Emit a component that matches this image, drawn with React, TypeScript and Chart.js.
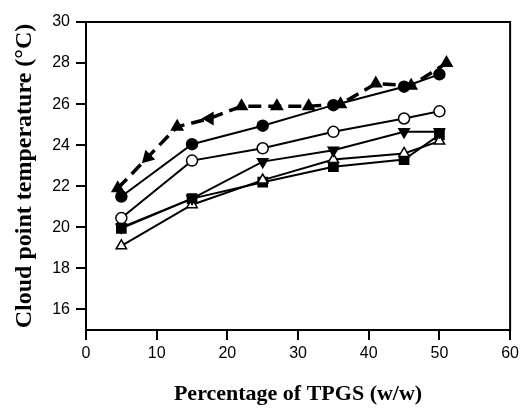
import React, { useEffect, useRef } from "react";
import { Chart, registerables } from "chart.js";

Chart.register(...registerables);

const xTicks = [0, 10, 20, 30, 40, 50, 60];
const yTicks = [16, 18, 20, 22, 24, 26, 28, 30];

const conc = [5, 15, 25, 35, 45, 50];
const filledCircle = [21.5, 24.05, 24.95, 25.95, 26.85, 27.45];
const openCircle = [20.45, 23.25, 23.85, 24.65, 25.3, 25.65];
const invTriangle = [20.0, 21.4, 23.2, 23.75, 24.65, 24.65];
const filledSquare = [19.95, 21.4, 22.2, 22.95, 23.3, 24.5];
const openTriangle = [19.1, 21.1, 22.3, 23.3, 23.6, 24.2];

const dashedX = [4.5, 8.7, 12.9, 17.5, 22, 27, 31.5, 36, 41, 46, 51];
const dashedY = [21.9, 23.4, 24.9, 25.3, 25.9, 25.9, 25.9, 26, 27, 26.9, 28];
const dashedRot = [0, -135, -120, -90, 0, 0, 0, 0, 0, 0, 0];

const pts = (xs: number[], ys: number[]) => xs.map((x, i) => ({ x, y: ys[i] }));

const framePlugin = {
  id: "frame",
  afterDraw(chart: any) {
    const { ctx, chartArea } = chart;
    ctx.save();
    ctx.strokeStyle = "#000";
    ctx.lineWidth = 2;
    ctx.strokeRect(chartArea.left, chartArea.top, chartArea.right - chartArea.left, chartArea.bottom - chartArea.top);
    ctx.restore();
  },
};

export default function App() {
  const ref = useRef<HTMLCanvasElement | null>(null);
  useEffect(() => {
    if (!ref.current) return;
    const base = {
      borderColor: "#000",
      borderWidth: 2,
      pointBorderColor: "#000",
      pointBorderWidth: 1.5,
      pointRadius: 5.5,
      showLine: true,
      tension: 0,
    };
    const chart = new Chart(ref.current, {
      type: "scatter",
      data: {
        datasets: [
          {
            ...base,
            label: "filled circle",
            data: pts(conc, filledCircle),
            pointStyle: "circle",
            pointBackgroundColor: "#000",
          },
          {
            ...base,
            label: "open circle",
            data: pts(conc, openCircle),
            pointStyle: "circle",
            pointBackgroundColor: "#fff",
          },
          {
            ...base,
            label: "inverted triangle",
            data: pts(conc, invTriangle),
            pointStyle: "triangle",
            rotation: 180,
            pointRadius: 6,
            pointBackgroundColor: "#000",
          },
          {
            ...base,
            label: "open triangle",
            data: pts(conc, openTriangle),
            pointStyle: "triangle",
            pointRadius: 6,
            pointBackgroundColor: "#fff",
          },
          {
            ...base,
            label: "filled square",
            data: pts(conc, filledSquare),
            pointStyle: "rect",
            pointRadius: 6.5,
            pointBackgroundColor: "#000",
          },
          {
            ...base,
            label: "dashed",
            data: pts(dashedX, dashedY),
            borderWidth: 3.5,
            borderDash: [13, 7],
            pointStyle: "triangle",
            rotation: dashedRot,
            pointRadius: 6.5,
            pointBackgroundColor: "#000",
          },
        ] as any,
      },
      plugins: [framePlugin],
      options: {
        animation: false,
        responsive: false,
        layout: { padding: { top: 22, right: 8, left: 0, bottom: 0 } },
        plugins: { legend: { display: false }, tooltip: { enabled: false } },
        scales: {
          x: {
            type: "linear",
            min: 0,
            max: 60,
            afterBuildTicks: (s: any) => {
              s.ticks = xTicks.map((v) => ({ value: v }));
            },
            afterFit: (s: any) => {
              s.height = 79;
            },
            grid: { drawOnChartArea: false, drawTicks: true, tickLength: 10, color: "#000", lineWidth: 2 },
            border: { display: true, color: "#000", width: 2 },
            ticks: {
              color: "#000",
              padding: 4,
              maxRotation: 0,
              font: { family: "Liberation Sans", size: 16 },
            },
            title: {
              display: true,
              text: "Percentage of TPGS (w/w)",
              color: "#000",
              padding: { top: 0, bottom: 1 },
              font: { family: "Liberation Serif", size: 22, weight: "bold" },
            },
          },
          y: {
            type: "linear",
            min: 15,
            max: 30,
            afterBuildTicks: (s: any) => {
              s.ticks = yTicks.map((v) => ({ value: v }));
            },
            afterFit: (s: any) => {
              s.width = 86;
            },
            grid: { drawOnChartArea: false, drawTicks: true, tickLength: 10, color: "#000", lineWidth: 2 },
            border: { display: true, color: "#000", width: 2 },
            ticks: {
              color: "#000",
              padding: 6,
              font: { family: "Liberation Sans", size: 16 },
            },
            title: {
              display: true,
              text: "Cloud point temperature (°C)",
              color: "#000",
              padding: { top: 10, bottom: 0 },
              font: { family: "Liberation Serif", size: 24, weight: "bold" },
            },
          },
        },
      } as any,
    });
    return () => chart.destroy();
  }, []);
  return (
    <div style={{ position: "absolute", left: 0, top: 0, width: 523, height: 409, background: "#fff" }}>
      <canvas ref={ref} width={523} height={409} style={{ display: "block" }} />
    </div>
  );
}
